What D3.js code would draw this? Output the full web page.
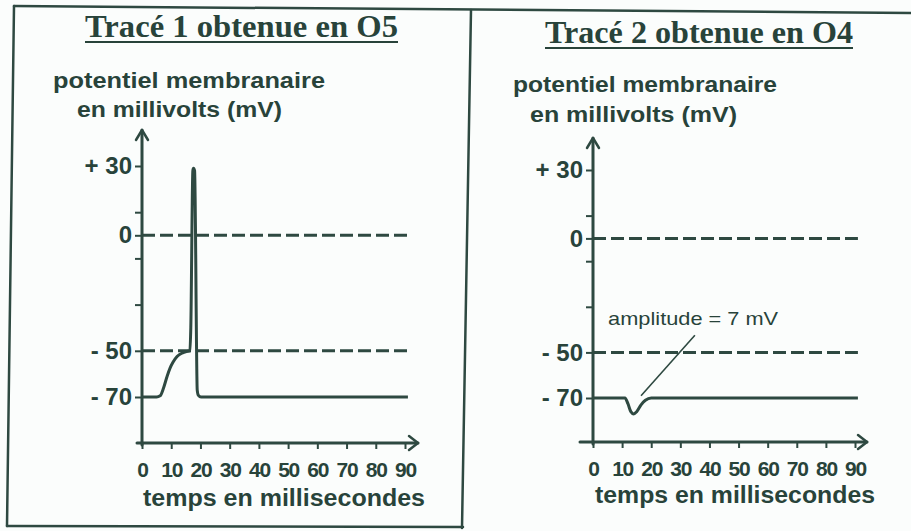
<!DOCTYPE html>
<html><head><meta charset="utf-8">
<script src="https://cdn.jsdelivr.net/npm/d3@7"></script>
<style>html,body{margin:0;padding:0;background:#fbfdfc;} svg{display:block;}</style>
</head><body><svg id="c" width="911" height="531"></svg>
<script>
// ---------- data ----------
const timeTicks = [0,10,20,30,40,50,60,70,80,90];
const voltTicks = [30,10,0,-10,-30,-50,-70];
const voltLabelValues = [30,0,-50,-70];
const voltLabelTexts = ["+ 30","0","- 50","- 70"];
const thresholdLevels = [0,-50];
const panelTitles = ["Tracé 1 obtenue en O5","Tracé 2 obtenue en O4"];
const yTitleLines = ["potentiel membranaire","en millivolts (mV)"];
const xTitle = "temps en millisecondes";
const trace1Time = [0,5,6.2,7.4,8.6,9.6,10.6,12,13.7,15.2,16.4,16.7,17.4,17.6,18.0,18.9,19.3,20.2,22,91];
const trace1Volt = [-70,-70,-69.5,-66,-61,-57.5,-55,-52.5,-51,-50.3,-50,-40,28,29,28,-67,-69.3,-70,-70,-70];
const trace2Time = [0,11,12,13,14,15,16.5,18,20,91];
const trace2Volt = [-70,-70,-72.5,-76,-77,-76,-73,-71,-70,-70];
const amplitudeText = "amplitude = 7 mV";
const amplitudeLeaderTime = [16.5,35];
const amplitudeLeaderVolt = [-69,-42.5];
const amplitudeTextAt = [5.2,-38];
const levelEnd = 91;

// ---------- layout ----------
const INK = "#28433a", LINE = "#2e4941";
const SANS = "'Liberation Sans', Arial, sans-serif";
const SERIF = "'Liberation Serif', 'Times New Roman', serif";
const svg = d3.select("#c");

// scanned frame
const frame = svg.append("g").attr("stroke", LINE).attr("fill","none").attr("stroke-linecap","round");
frame.append("line").attr("x1",14).attr("y1",6).attr("x2",911).attr("y2",13).attr("stroke-width",2.5);
frame.append("line").attr("x1",14).attr("y1",6).attr("x2",7).attr("y2",526).attr("stroke-width",2.5);
frame.append("line").attr("x1",7).attr("y1",526).attr("x2",463).attr("y2",527).attr("stroke-width",2.5);
frame.append("line").attr("x1",471).attr("y1",10).attr("x2",462).attr("y2",528).attr("stroke-width",2.5);

const panels = [
  {time: trace1Time, volt: trace1Volt, title: panelTitles[0],
   xr:[142,405], yr:[397,166], axisY:443, yAxisTop:130, xStart:137, xEnd:418,
   titleBox:{x:85, w:313, b:37, u:42},
   yT:[{x:53,w:272,b:88},{x:77,w:205,b:117}], xT:{x:143,w:282,b:506}, annotate:false},
  {time: trace2Time, volt: trace2Volt, title: panelTitles[1],
   xr:[593,855], yr:[398,170], axisY:442, yAxisTop:138, xStart:580, xEnd:867,
   titleBox:{x:545, w:308, b:43, u:48},
   yT:[{x:513,w:264,b:92},{x:530,w:207,b:122}], xT:{x:595,w:280,b:503}, annotate:true}
];

panels.forEach(p => {
  const g = svg.append("g");
  const x = d3.scaleLinear().domain([0,90]).range(p.xr);
  const y = d3.scaleLinear().domain([-70,30]).range(p.yr);

  // title
  g.append("text").attr("x",p.titleBox.x).attr("y",p.titleBox.b)
    .attr("font-family",SERIF).attr("font-weight","bold").attr("font-size",32)
    .attr("fill",INK).attr("textLength",p.titleBox.w).attr("lengthAdjust","spacingAndGlyphs")
    .text(p.title);
  g.append("line").attr("x1",p.titleBox.x).attr("x2",p.titleBox.x+p.titleBox.w)
    .attr("y1",p.titleBox.u).attr("y2",p.titleBox.u).attr("stroke",INK).attr("stroke-width",2);

  // y title
  yTitleLines.forEach((t,i) => {
    g.append("text").attr("x",p.yT[i].x).attr("y",p.yT[i].b)
      .attr("font-family",SANS).attr("font-weight","bold").attr("font-size",22)
      .attr("fill",INK).attr("textLength",p.yT[i].w).attr("lengthAdjust","spacingAndGlyphs")
      .text(t);
  });

  // x title
  g.append("text").attr("x",p.xT.x).attr("y",p.xT.b)
    .attr("font-family",SANS).attr("font-weight","bold").attr("font-size",23)
    .attr("fill",INK).attr("textLength",p.xT.w).attr("lengthAdjust","spacingAndGlyphs")
    .text(xTitle);

  // threshold dashed lines
  g.selectAll(".lvl").data(thresholdLevels).join("line")
    .attr("x1",x(0)).attr("x2",x(levelEnd))
    .attr("y1",d=>y(d)).attr("y2",d=>y(d))
    .attr("stroke",LINE).attr("stroke-width",3).attr("stroke-dasharray","13,5");

  // y axis
  const yAxis = d3.axisLeft(y).tickValues(voltTicks).tickSize(7).tickPadding(3)
    .tickFormat(d => { const i = voltLabelValues.indexOf(d); return i>=0 ? voltLabelTexts[i] : ""; });
  const ya = g.append("g").attr("transform",`translate(${x(0)},0)`).call(yAxis);
  ya.select(".domain").remove();
  ya.selectAll("line").attr("stroke",LINE).attr("stroke-width",2);
  ya.selectAll("text").attr("font-family",SANS).attr("font-weight","bold").attr("font-size",24).attr("fill",INK);

  // x axis
  const xAxis = d3.axisBottom(x).tickValues(timeTicks).tickSize(6).tickPadding(13);
  const xa = g.append("g").attr("transform",`translate(0,${p.axisY})`).call(xAxis);
  xa.select(".domain").remove();
  xa.selectAll("line").attr("stroke",LINE).attr("stroke-width",2);
  xa.selectAll("text").attr("font-family",SANS).attr("font-size",21).attr("font-weight","bold")
    .attr("fill",INK).attr("letter-spacing",-1.2);

  // axis lines with arrows
  const ax = g.append("g").attr("stroke",LINE).attr("stroke-width",3).attr("fill","none")
    .attr("stroke-linecap","round").attr("stroke-linejoin","round");
  ax.append("line").attr("x1",x(0)).attr("x2",x(0)).attr("y1",p.axisY+2).attr("y2",p.yAxisTop);
  ax.append("path").attr("d",`M${x(0)-6},${p.yAxisTop+10}L${x(0)},${p.yAxisTop}L${x(0)+6},${p.yAxisTop+10}`).attr("stroke-width",2.5);
  ax.append("line").attr("x1",p.xStart).attr("x2",p.xEnd).attr("y1",p.axisY).attr("y2",p.axisY);
  ax.append("path").attr("d",`M${p.xEnd-9},${p.axisY-7}L${p.xEnd},${p.axisY}L${p.xEnd-9},${p.axisY+7}`).attr("stroke-width",2.5);

  // trace
  const pts = p.time.map((t,i)=>[t,p.volt[i]]);
  const line = d3.line().x(d=>x(d[0])).y(d=>y(d[1])).curve(d3.curveMonotoneX);
  g.append("path").attr("d",line(pts)).attr("fill","none").attr("stroke",LINE)
    .attr("stroke-width",3).attr("stroke-linejoin","miter");

  if (p.annotate) {
    g.append("line")
      .attr("x1",x(amplitudeLeaderTime[0])).attr("y1",y(amplitudeLeaderVolt[0]))
      .attr("x2",x(amplitudeLeaderTime[1])).attr("y2",y(amplitudeLeaderVolt[1]))
      .attr("stroke",LINE).attr("stroke-width",1.6);
    g.append("text").attr("x",x(amplitudeTextAt[0])).attr("y",y(amplitudeTextAt[1]))
      .attr("font-family",SANS).attr("font-size",19).attr("fill",INK)
      .attr("textLength",170).attr("lengthAdjust","spacingAndGlyphs")
      .text(amplitudeText);
  }
});
</script></body></html>
